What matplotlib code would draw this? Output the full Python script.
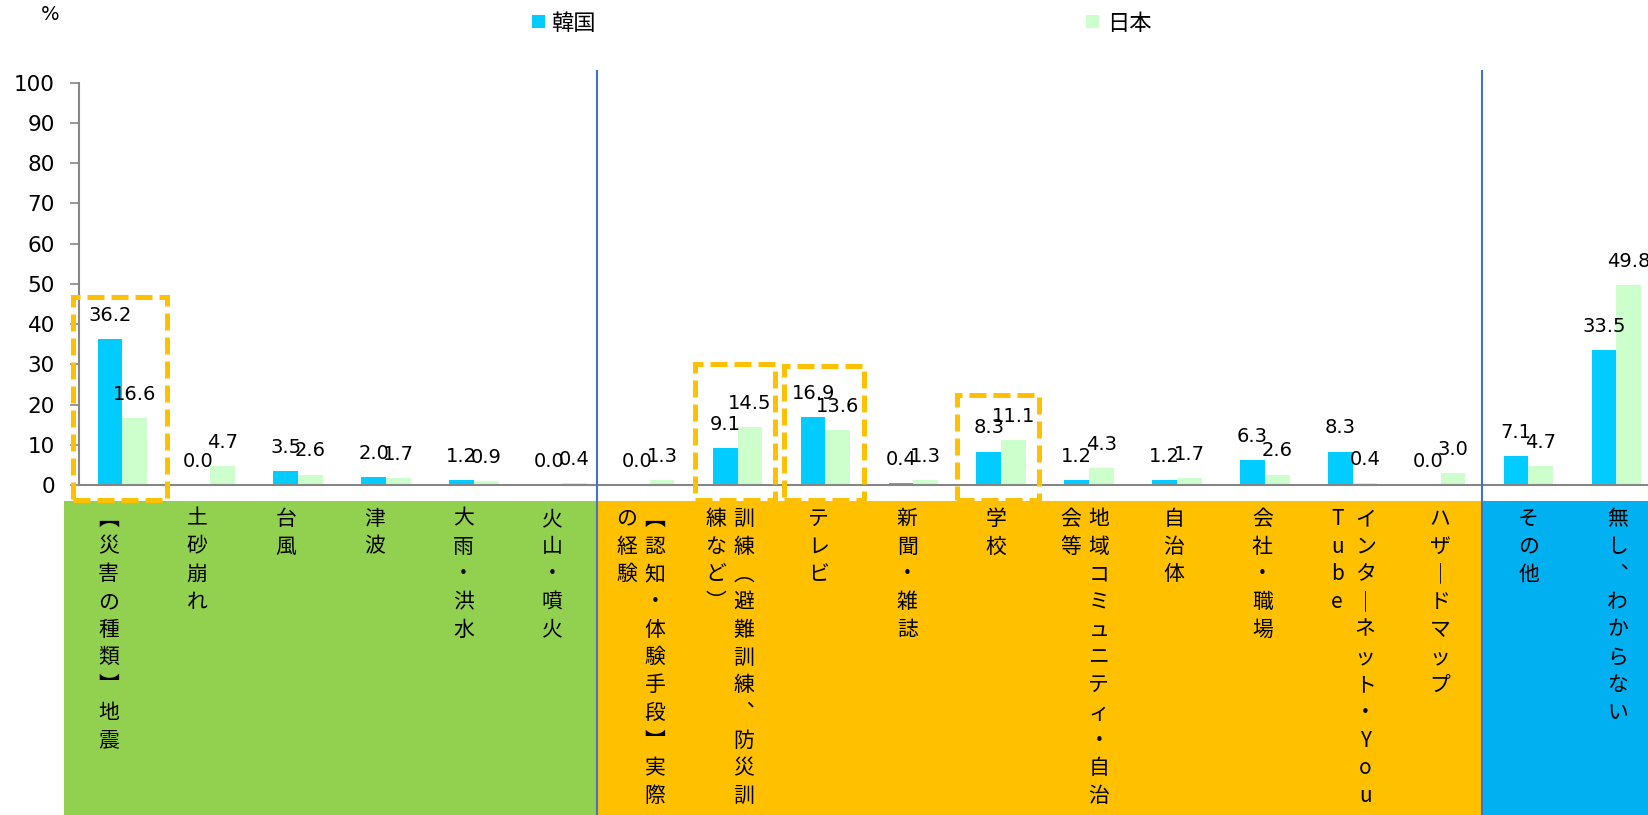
import matplotlib
matplotlib.use("Agg")
import matplotlib.pyplot as plt
import matplotlib.transforms as mtransforms
from matplotlib.patches import Rectangle
from matplotlib.lines import Line2D
import numpy as np

plt.rcParams['font.family'] = ['Noto Sans CJK JP', 'DejaVu Sans']

# ---------------- data ----------------
categories = ["【災害の種類】地震", "土砂崩れ", "台風", "津波", "大雨・洪水", "火山・噴火",
              "【認知・体験手段】実際の経験", "訓練（避難訓練、防災訓練など）", "テレビ", "新聞・雑誌",
              "学校", "地域コミュニティ・自治会等", "自治体", "会社・職場", "インターネット・YouTube",
              "ハザードマップ", "その他", "無し、わからない"]
korea = [36.2, 0.0, 3.5, 2.0, 1.2, 0.0, 0.0, 9.1, 16.9, 0.4, 8.3, 1.2, 1.2, 6.3, 8.3, 0.0, 7.1, 33.5]
japan = [16.6, 4.7, 2.6, 1.7, 0.9, 0.4, 1.3, 14.5, 13.6, 1.3, 11.1, 4.3, 1.7, 2.6, 0.4, 3.0, 4.7, 49.8]
series_names = ["韓国", "日本"]
series_colors = ["#00CCFF", "#CCFFCC"]
yticks = list(range(0, 101, 10))
group_colors = ["#92D050", "#FFC000", "#00B0F0"]

# ---------------- layout ----------------
W, H = 1648, 815
region_edges = [-0.66, 5.40, 15.47, 18.2]      # data x of background bands
highlight_boxes = [(-0.558, 0.508, 46.7), (6.52, 7.43, 30.2), (7.53, 8.44, 29.7), (9.50, 10.43, 22.3)]

fig = plt.figure(figsize=(W / 100, H / 100), dpi=100)
ax = fig.add_axes([78.5 / W, (H - 485) / H, (1660.25 - 78.5) / W, (485 - 82.7) / H])

x = np.arange(len(categories))
bw = 0.281
for k, (vals, col) in enumerate(zip([korea, japan], series_colors)):
    pos = x + (k - 0.5) * bw
    ax.bar(pos, vals, bw, color=col, zorder=2)
    for px_, v in zip(pos, vals):
        ax.annotate(f"{v:.1f}", (px_, v), xytext=(0, 17), textcoords='offset points',
                    ha='center', va='center', fontsize=14, family='DejaVu Sans',
                    annotation_clip=False, zorder=4)

ax.set_xlim(-0.5, 17.5)
ax.set_ylim(0, 100)
ax.set_yticks(yticks)
ax.set_xticks([])
for s in ['top', 'right']:
    ax.spines[s].set_visible(False)
for s in ['left', 'bottom']:
    ax.spines[s].set_color('#868686')
    ax.spines[s].set_linewidth(1.5)
ax.tick_params(axis='y', direction='out', length=6.5, width=1.2, color='#868686',
               labelsize=15.5, pad=10.5)
for lab in ax.get_yticklabels():
    lab.set_family('DejaVu Sans')

# highlight dashed boxes
ybot = (485 - 500) / ((485 - 82.7) / 100)
for (x0, x1, top) in highlight_boxes:
    ax.add_patch(Rectangle((x0, ybot), x1 - x0, top - ybot, fill=False, edgecolor='#FFC000',
                           linewidth=3.6, linestyle=(0, (3.4, 1.4)), clip_on=False, zorder=6))

# background bands and separators
trans = mtransforms.blended_transform_factory(ax.transData, fig.transFigure)
band_top = (H - 501) / H
for i, c in enumerate(group_colors):
    fig.add_artist(Rectangle((region_edges[i], 0), region_edges[i + 1] - region_edges[i], band_top,
                             transform=trans, facecolor=c, edgecolor='none', zorder=0))
for xe in region_edges[1:3]:
    fig.add_artist(Line2D([xe, xe], [0, (H - 71) / H], transform=trans, color='#4472C4',
                          linewidth=1.5, zorder=3))

# vertical category labels
VMAP = {'【': '\uFE3B', '】': '\uFE3C', '（': '\uFE35', '）': '\uFE36', '、': '\uFE11', 'ー': '｜'}
fs = 15
em = fs * 100 / 72
pitch = 27.7
y0 = 517
for i, lab in enumerate(categories):
    chars = [VMAP.get(c, c) for c in lab]
    cols = [chars[k:k + 11] for k in range(0, len(chars), 11)]
    xc = ax.transData.transform((-0.16 + i * 1.0102, 0))[0]
    n = len(cols)
    for j, col in enumerate(cols):
        xx = xc + (n - 1) / 2 * 28 - j * 28
        for k, ch in enumerate(col):
            yy = y0 + k * pitch + 0.38 * em
            fig.text(xx / W, 1 - yy / H, ch, ha='center', va='baseline', fontsize=fs, zorder=5)

# legend
leg_pos = [(532, 551), (1086, 1107)]
for (mx, tx), name, col in zip(leg_pos, series_names, series_colors):
    fig.add_artist(Rectangle((mx / W, 1 - 28 / H), 13 / W, 13 / H, transform=fig.transFigure,
                             facecolor=col, edgecolor='none'))
    fig.text(tx / W, 1 - 24 / H, name, ha='left', va='center', fontsize=16)

fig.text(50 / W, 1 - 15 / H, "%", ha='center', va='center', fontsize=14, family='DejaVu Sans')

fig.savefig("out.png", dpi=100)
